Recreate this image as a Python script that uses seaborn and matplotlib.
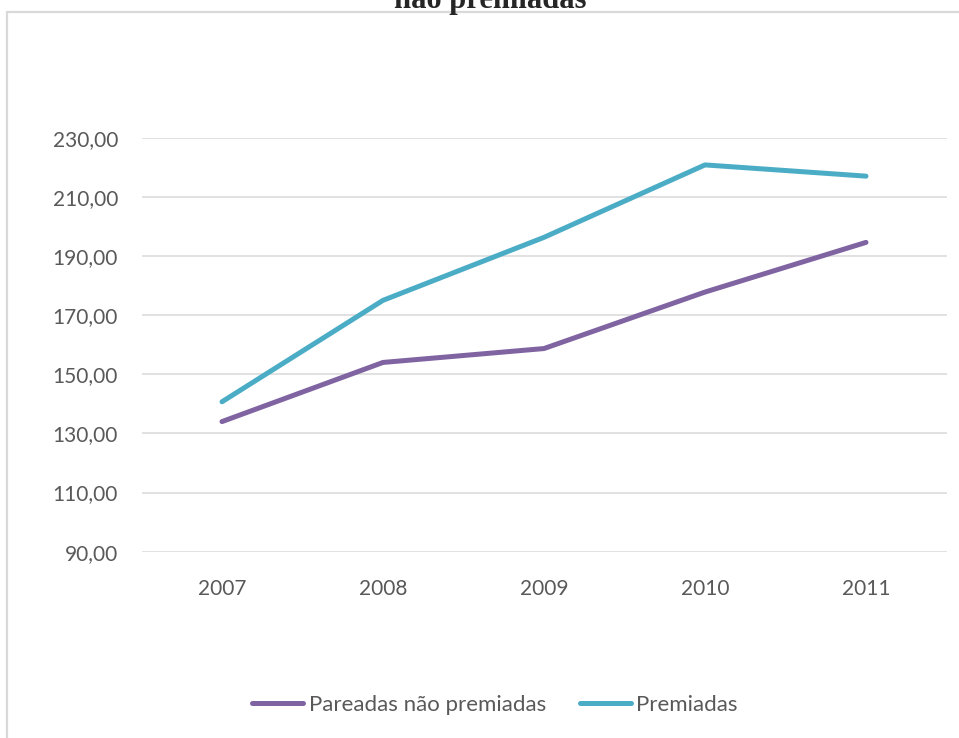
import matplotlib
matplotlib.use("Agg")
import matplotlib.pyplot as plt
import seaborn as sns
import pandas as pd
from matplotlib.ticker import FuncFormatter
from matplotlib.patches import Rectangle
from matplotlib.lines import Line2D

years = ["2007", "2008", "2009", "2010", "2011"]
pareadas = [134.0, 154.0, 158.7, 177.8, 194.6]
premiadas = [140.7, 175.0, 196.3, 220.8, 217.0]
series_names = ["Pareadas não premiadas", "Premiadas"]
title_text = "não premiadas"

sns.set_theme(style="white")
plt.rcParams["font.family"] = ["Lato", "DejaVu Sans"]

df = pd.DataFrame({
    "pos": list(range(len(years))) * 2,
    "valor": pareadas + premiadas,
    "serie": [series_names[0]] * len(years) + [series_names[1]] * len(years),
})

fig = plt.figure(figsize=(9.59, 7.38), dpi=100)
fig.patch.set_facecolor("white")
ax = fig.add_axes([141.5 / 959, 1 - 551.7 / 738, 805 / 959, 414 / 738])

palette = {series_names[0]: "#8064A2", series_names[1]: "#4BACC6"}
sns.lineplot(data=df, x="pos", y="valor", hue="serie", palette=palette,
             linewidth=3.6, ax=ax, legend=False, solid_capstyle="round")

ax.set_xlim(-0.5, len(years) - 0.5)
ax.set_ylim(90, 230)
ax.set_yticks(range(90, 231, 20))
ax.yaxis.set_major_formatter(FuncFormatter(lambda v, p: f"{v:.2f}".replace(".", ",")))
ax.set_xticks(range(len(years)))
ax.set_xticklabels(years)
ax.set_xlabel("")
ax.set_ylabel("")
for s in ax.spines.values():
    s.set_visible(False)
ax.grid(axis="y", color="#D9D9D9", linewidth=1.1)
ax.grid(axis="x", visible=False)
ax.set_axisbelow(True)
ax.tick_params(axis="both", length=0, labelsize=15, colors="#595959")
ax.tick_params(axis="x", pad=20)
ax.tick_params(axis="y", pad=17)

# chart border
fig.patches.append(Rectangle((7 / 959, -0.1), 1.2, 1 - 12 / 738 + 0.1,
                             transform=fig.transFigure, fill=False,
                             edgecolor="#D9D9D9", linewidth=1.6))

fig.text(490 / 959, 1 - 8 / 738, title_text, ha="center", va="baseline",
         fontsize=22, fontweight="bold", family=["Liberation Serif", "DejaVu Serif"])

handles = [Line2D([], [], color=palette[n], linewidth=3.6, solid_capstyle="round") for n in series_names]
fig.legend(handles, series_names, loc="center", bbox_to_anchor=(495 / 959, 1 - 705 / 738),
           ncol=2, frameon=False, fontsize=16, labelcolor="#595959",
           handlelength=2.3, handletextpad=0.25, columnspacing=1.5)

fig.savefig("out.png", dpi=100, facecolor="white")
